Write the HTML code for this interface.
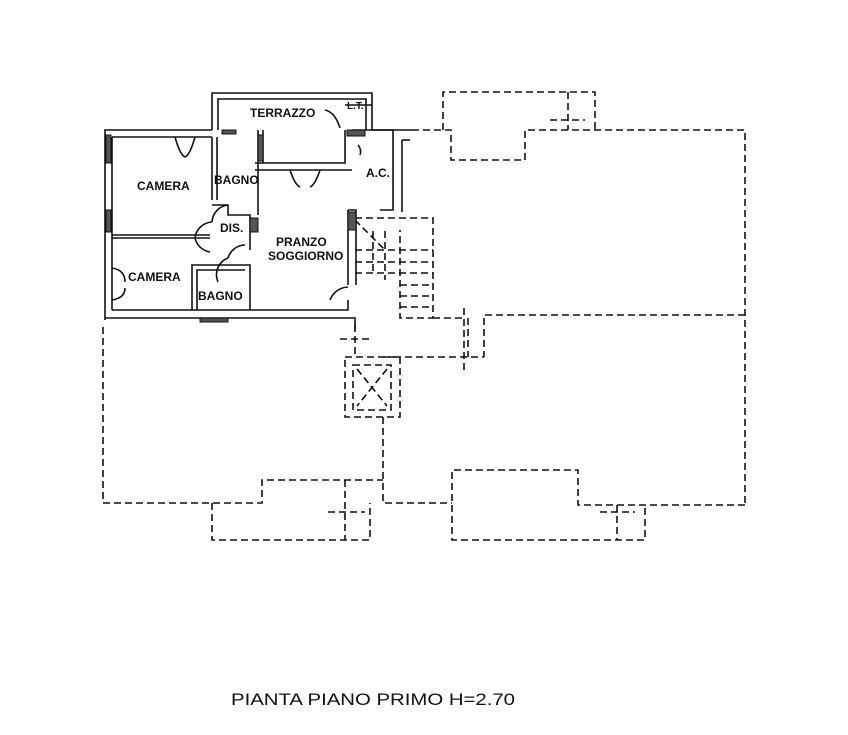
<!DOCTYPE html>
<html><head><meta charset="utf-8"><style>
html,body{margin:0;padding:0;background:#fff;}
svg{display:block;}
text{font-family:"Liberation Sans",Arial,sans-serif;fill:#111;}
</style></head><body>
<svg width="848" height="735" viewBox="0 0 848 735" xmlns="http://www.w3.org/2000/svg">
<g fill="none" stroke="#111" stroke-width="1.6" stroke-dasharray="7,4">
 <polyline points="443,130 443,92 595,92 595,130"/>
 <line x1="568" y1="92" x2="568" y2="130"/>
 <line x1="550" y1="120" x2="585" y2="120"/>
 <polyline points="412,130 443,130 451,130 451,160 525,160 525,130 745,130 745,505"/>
 <polyline points="745,315 484,315 484,357"/>
 <line x1="468" y1="318" x2="468" y2="357"/>
 <polyline points="433,318 464,318"/>
 <line x1="464" y1="308" x2="464" y2="372"/>
 <polyline points="383,357 484,357"/>
 <polyline points="355,218 433,218 433,318 400,318 400,230"/>
 <line x1="373" y1="231" x2="373" y2="275"/>
 <line x1="385" y1="231" x2="385" y2="280"/>
 <line x1="355" y1="250" x2="433" y2="250"/>
 <line x1="355" y1="262" x2="433" y2="262"/>
 <line x1="355" y1="273" x2="433" y2="273"/>
 <line x1="400" y1="285" x2="433" y2="285"/>
 <line x1="400" y1="296" x2="433" y2="296"/>
 <line x1="400" y1="307" x2="433" y2="307"/>
 <line x1="355" y1="220" x2="385" y2="250"/>
 <polyline points="745,505 578,505 578,470 452,470 452,540 645,540 645,505"/>
 <line x1="617" y1="505" x2="617" y2="540"/>
 <line x1="600" y1="512" x2="635" y2="512"/>
 <polyline points="103,327 103,503 262,503 262,480 383,480"/>
 <polyline points="383,417 383,503 452,503"/>
 <polyline points="212,503 212,540 370,540 370,503"/>
 <line x1="345" y1="480" x2="345" y2="540"/>
 <line x1="328" y1="512" x2="365" y2="512"/>
 <line x1="355" y1="325" x2="355" y2="357"/>
 <line x1="340" y1="339" x2="372" y2="339"/>
 <rect x="345" y="357" width="55" height="60"/>
 <rect x="353" y="365" width="38" height="45"/>
 <line x1="357" y1="369" x2="387" y2="406"/>
 <line x1="387" y1="369" x2="357" y2="406"/>
</g>
<g fill="none" stroke="#111" stroke-width="1.6">
 <polyline points="212,130 105,130 105,320"/>
 <polyline points="112,137 112,310"/>
 <polyline points="212,130 212,93 372,93 372,130 412,130"/>
 <polyline points="218,130 218,99 366,99 366,130"/>
 <polyline points="105,318 355,318 355,330"/>
 <polyline points="112,310 348,310 348,300"/>
 <polyline points="112,137 212,137"/>
 <line x1="212" y1="137" x2="212" y2="200"/>
 <line x1="217" y1="137" x2="217" y2="200"/>
 <line x1="258" y1="130" x2="258" y2="215"/>
 <line x1="263" y1="130" x2="263" y2="163"/>
 <polyline points="255,163 345,163 345,130"/>
 <polyline points="255,170 352,170"/>
 <line x1="112" y1="235" x2="210" y2="235"/>
 <line x1="112" y1="238" x2="210" y2="238"/>
 <polyline points="212,205 228,205 228,215 250,215 250,250"/>
 <polyline points="192,310 192,265 250,265 250,310"/>
 <polyline points="197,310 197,270 245,270"/>
 <polyline points="352,130 393,130 393,210 380,210"/>
 <polyline points="402,140 410,140"/>
 <line x1="402" y1="140" x2="402" y2="212"/>
 <polyline points="348,210 356,210 356,285"/>
 <line x1="348" y1="210" x2="348" y2="285"/>
 <path d="M175,137 Q180,155 185,157 M195,137 Q190,155 185,157"/>
 <path d="M290,170 Q295,185 300,187 M320,170 Q315,185 310,187"/>
 <path d="M348,287 A20,20 0 0 0 330,300"/>
 <path d="M228,205 A18,18 0 0 0 212,222"/>
 <path d="M195,238 A18,18 0 0 1 212,222"/>
 <path d="M195,238 A18,18 0 0 0 210,252"/>
 <path d="M228,258 A18,18 0 0 1 245,245"/>
 <path d="M228,258 A18,18 0 0 0 218,282"/>
 <path d="M112,268 Q125,270 125,282 M112,300 Q125,298 125,288"/>
 <path d="M325,110 Q335,112 340,128"/>
 <path d="M358,145 Q362,150 360,155"/>
 <line x1="345" y1="105" x2="372" y2="105"/>
</g>
<g fill="#555" stroke="#111" stroke-width="1">
 <rect x="106" y="135" width="5" height="28"/>
 <rect x="106" y="210" width="5" height="22"/>
 <rect x="258" y="135" width="5" height="26"/>
 <rect x="250" y="218" width="8" height="14"/>
 <rect x="348" y="212" width="8" height="18"/>
 <rect x="347" y="130" width="18" height="6"/>
 <rect x="200" y="318" width="28" height="4"/>
 <rect x="222" y="130" width="14" height="4"/>
</g>
<g font-size="12" font-weight="600">
 <text x="250" y="117">TERRAZZO</text>
 <text x="347" y="109" font-size="10">L.T.</text>
 <text x="137" y="190">CAMERA</text>
 <text x="214" y="184">BAGNO</text>
 <text x="366" y="177">A.C.</text>
 <text x="220" y="232">DIS.</text>
 <text x="276" y="246">PRANZO</text>
 <text x="268" y="260">SOGGIORNO</text>
 <text x="128" y="281">CAMERA</text>
 <text x="198" y="300">BAGNO</text>
</g>
<text x="231" y="705" font-size="17" fill="#000" textLength="284" lengthAdjust="spacingAndGlyphs">PIANTA PIANO PRIMO H=2.70</text>
</svg>
</body></html>
